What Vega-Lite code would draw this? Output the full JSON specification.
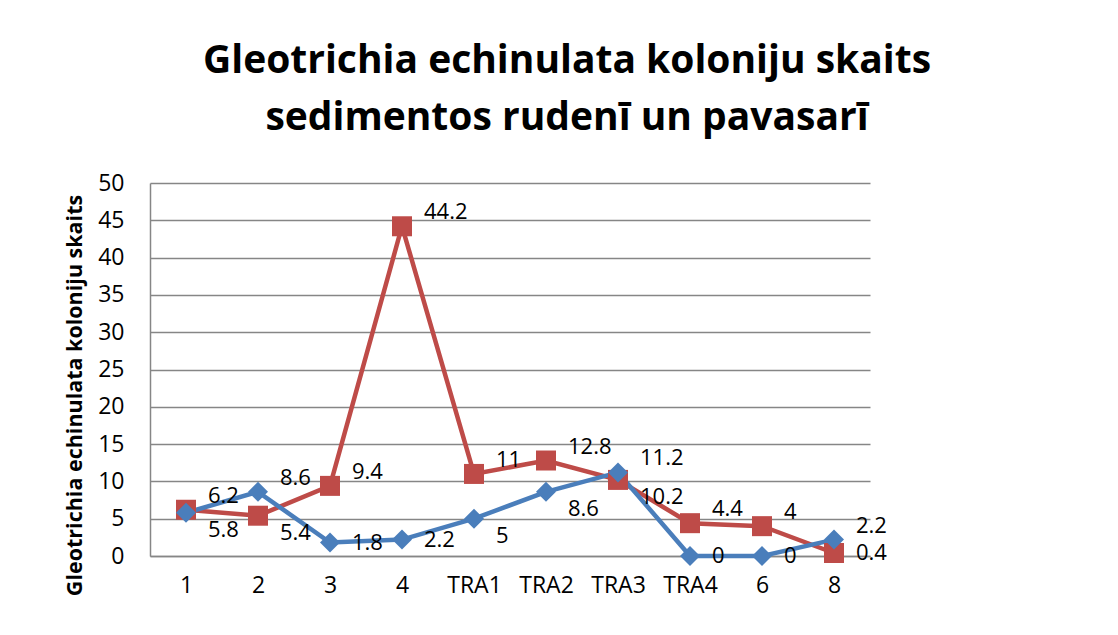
{
  "$schema": "https://vega.github.io/schema/vega-lite/v6.json",
  "width": 720,
  "height": 373,
  "autosize": {"type": "none"},
  "padding": {"left": 150, "top": 183, "right": 248, "bottom": 79},
  "background": "white",
  "config": {
    "font": "Open Sans",
    "view": {"stroke": null}
  },
  "title": {
    "text": ["Gleotrichia echinulata koloniju skaits", "sedimentos rudenī un pavasarī"],
    "fontSize": 39,
    "fontWeight": "bold",
    "font": "Open Sans",
    "color": "black",
    "anchor": "middle",
    "frame": "group",
    "dx": 57,
    "lineHeight": 57,
    "offset": 34
  },
  "data": {
    "values": [
      {"site": "1", "series": "pavasarī", "value": 6.2},
      {"site": "2", "series": "pavasarī", "value": 5.4},
      {"site": "3", "series": "pavasarī", "value": 9.4},
      {"site": "4", "series": "pavasarī", "value": 44.2},
      {"site": "TRA1", "series": "pavasarī", "value": 11},
      {"site": "TRA2", "series": "pavasarī", "value": 12.8},
      {"site": "TRA3", "series": "pavasarī", "value": 10.2},
      {"site": "TRA4", "series": "pavasarī", "value": 4.4},
      {"site": "6", "series": "pavasarī", "value": 4},
      {"site": "8", "series": "pavasarī", "value": 0.4},
      {"site": "1", "series": "rudenī", "value": 5.8},
      {"site": "2", "series": "rudenī", "value": 8.6},
      {"site": "3", "series": "rudenī", "value": 1.8},
      {"site": "4", "series": "rudenī", "value": 2.2},
      {"site": "TRA1", "series": "rudenī", "value": 5},
      {"site": "TRA2", "series": "rudenī", "value": 8.6},
      {"site": "TRA3", "series": "rudenī", "value": 11.2},
      {"site": "TRA4", "series": "rudenī", "value": 0},
      {"site": "6", "series": "rudenī", "value": 0},
      {"site": "8", "series": "rudenī", "value": 2.2}
    ]
  },
  "transform": [
    {"joinaggregate": [{"op": "max", "field": "value", "as": "maxv"}], "groupby": ["site"]}
  ],
  "encoding": {
    "x": {
      "field": "site",
      "type": "nominal",
      "sort": ["1", "2", "3", "4", "TRA1", "TRA2", "TRA3", "TRA4", "6", "8"],
      "scale": {"type": "point", "padding": 0.5},
      "axis": {
        "title": null,
        "labelAngle": 0,
        "labelFontSize": 23,
        "labelColor": "black",
        "labelFont": "Open Sans",
        "labelPadding": 18,
        "ticks": false,
        "domainColor": "#868686",
        "domainWidth": 1.5,
        "grid": false
      }
    },
    "y": {
      "field": "value",
      "type": "quantitative",
      "scale": {"domain": [0, 50], "nice": false},
      "axis": {
        "values": [0, 5, 10, 15, 20, 25, 30, 35, 40, 45, 50],
        "title": "Gleotrichia echinulata koloniju skaits",
        "titleFontSize": 21.5,
        "titleFontWeight": "bold",
        "titleFont": "Open Sans",
        "titleColor": "black",
        "titleAngle": 270,
        "titleAlign": "center",
        "titleBaseline": "middle",
        "titleX": -75,
        "titleY": 212,
        "labelFontSize": 23,
        "labelColor": "black",
        "labelFont": "Open Sans",
        "labelPadding": 26,
        "ticks": false,
        "domainColor": "#868686",
        "domainWidth": 1.5,
        "gridColor": "#868686",
        "gridWidth": 1.3
      }
    },
    "color": {
      "field": "series",
      "type": "nominal",
      "scale": {"domain": ["rudenī", "pavasarī"], "range": ["#4A7EBB", "#BE4B48"]},
      "legend": null
    }
  },
  "layer": [
    {
      "mark": {"type": "line", "strokeWidth": 4.5},
      "encoding": {"detail": {"field": "series"}}
    },
    {
      "mark": {"type": "point", "filled": true, "opacity": 1},
      "encoding": {
        "shape": {
          "field": "series",
          "type": "nominal",
          "scale": {"domain": ["rudenī", "pavasarī"], "range": ["diamond", "square"]},
          "legend": null
        },
        "size": {"value": 400}
      }
    },
    {
      "transform": [{"filter": "datum.value == datum.maxv"}],
      "mark": {"type": "text", "align": "left", "baseline": "middle", "dx": 22, "dy": -14, "fontSize": 22, "font": "Open Sans"},
      "encoding": {"text": {"field": "value", "type": "quantitative"}, "color": {"value": "black"}}
    },
    {
      "transform": [{"filter": "datum.value < datum.maxv && datum.value >= 3"}],
      "mark": {"type": "text", "align": "left", "baseline": "middle", "dx": 22, "dy": 17, "fontSize": 22, "font": "Open Sans"},
      "encoding": {"text": {"field": "value", "type": "quantitative"}, "color": {"value": "black"}}
    },
    {
      "transform": [{"filter": "datum.value < datum.maxv && datum.value < 3"}],
      "mark": {"type": "text", "align": "left", "baseline": "middle", "dx": 22, "dy": 0, "fontSize": 22, "font": "Open Sans"},
      "encoding": {"text": {"field": "value", "type": "quantitative"}, "color": {"value": "black"}}
    }
  ]
}
